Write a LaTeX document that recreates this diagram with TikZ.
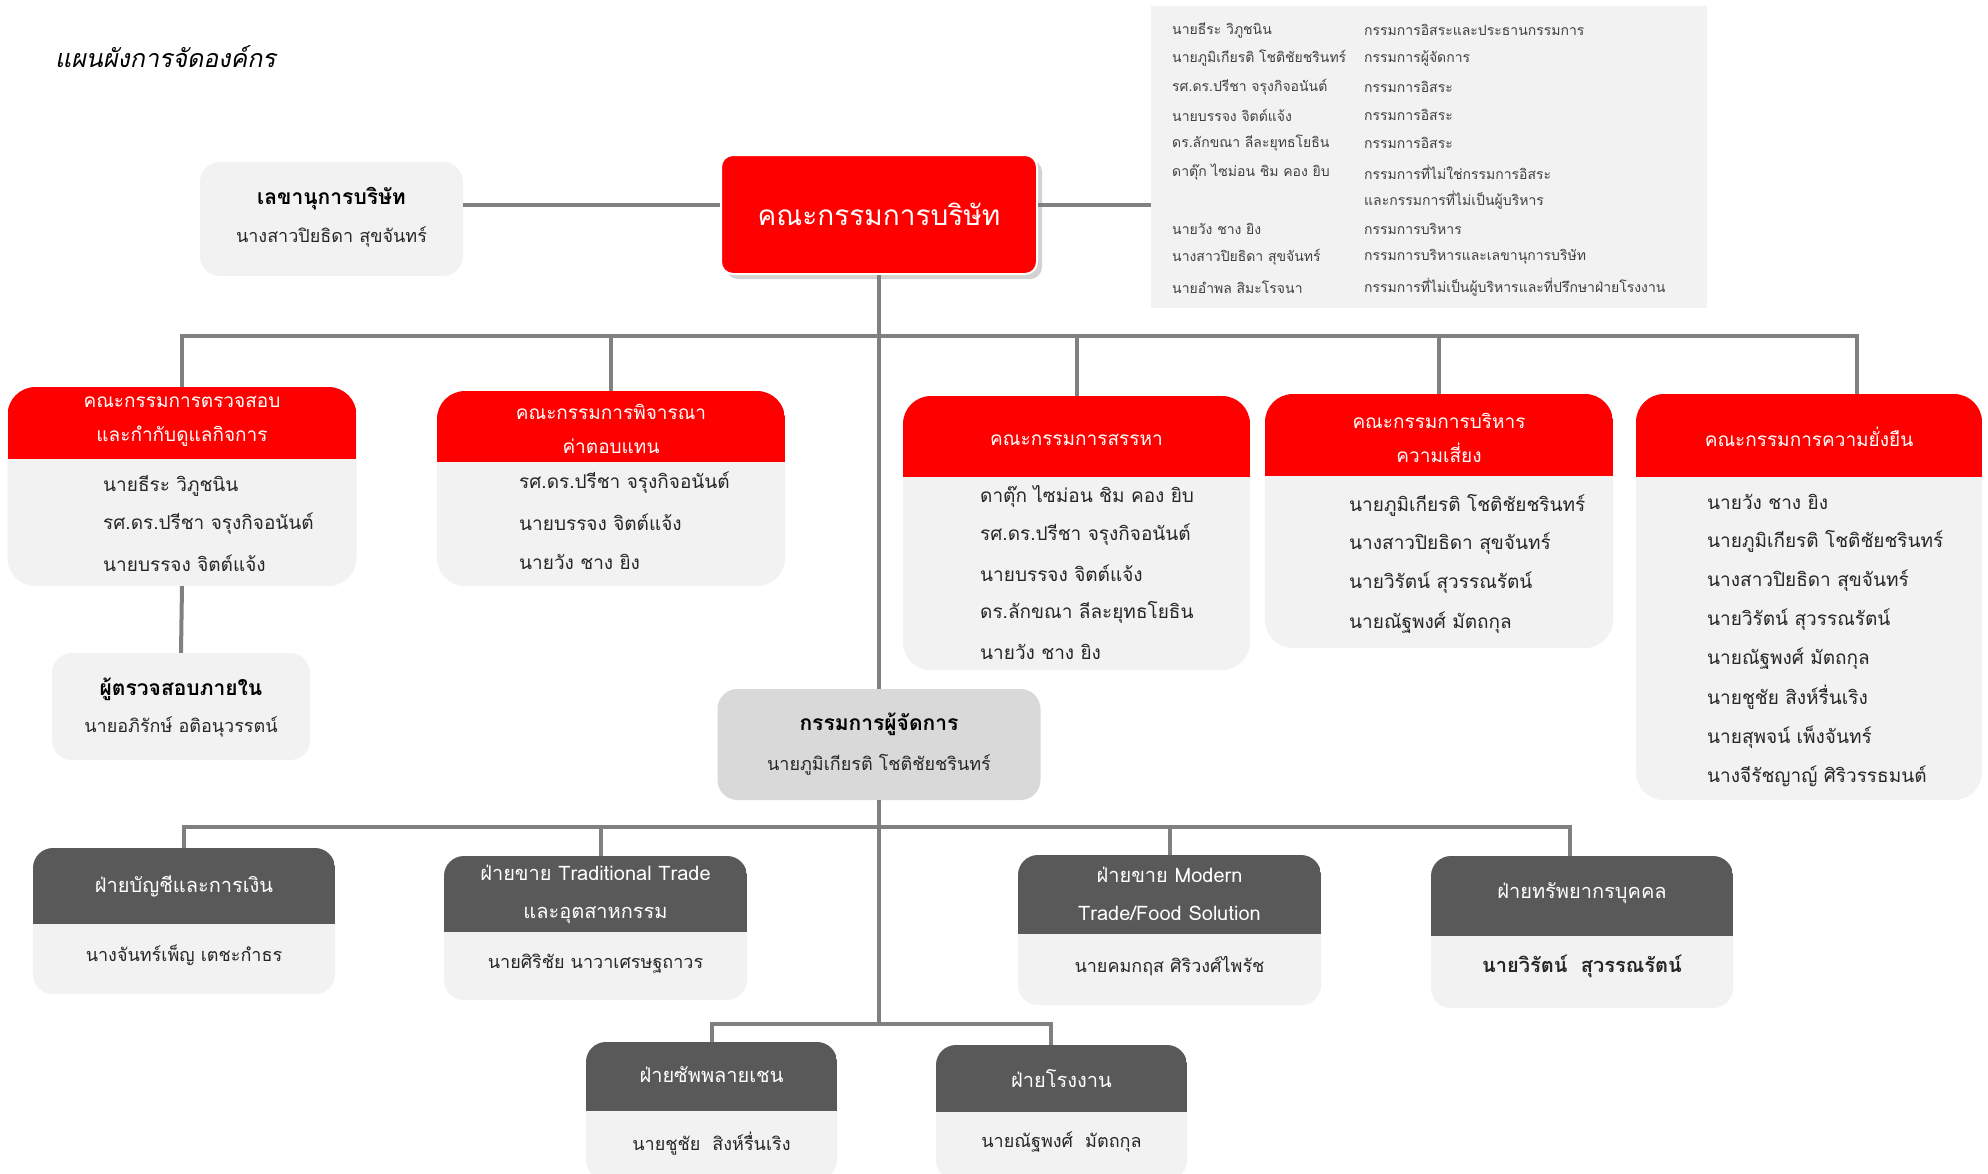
\documentclass[tikz,border=0pt]{standalone}
\usepackage{fontspec}
\setmainfont[Script=Thai]{Loma}
\newfontfamily\slthai[Script=Thai,FakeSlant=0.2]{Loma}
\usetikzlibrary{shadows}

\definecolor{orgred}{HTML}{FF0000}
\definecolor{panel}{HTML}{F2F2F2}
\definecolor{mdgray}{HTML}{D9D9D9}
\definecolor{deptgray}{HTML}{595959}
\definecolor{wiregray}{HTML}{808080}

\tikzset{
  wire/.style={draw=wiregray, line width=4pt},
  card/.style={fill=panel, rounded corners=20pt, inner sep=0pt},
  headcard/.style 2 args={card, path picture={
      \fill[#1, sharp corners] (path picture bounding box.north west)
        rectangle ([yshift=-#2]path picture bounding box.north east);}},
  committee/.style={headcard={orgred}{#1}, rounded corners=28pt},
  dept/.style={headcard={deptgray}{#1}, rounded corners=20pt},
  boardbox/.style={fill=orgred, rounded corners=12pt, draw=white, line width=2pt,
    drop shadow={opacity=0.35, shadow xshift=5pt, shadow yshift=-5pt},
    text=white, font=\fontsize{28}{32}\selectfont},
  hd/.style={text=white, align=center, inner sep=0pt, font=\fontsize{19}{34}\selectfont},
  dhd/.style={text=white, align=center, inner sep=0pt, font=\fontsize{20}{38}\selectfont},
  mem/.style={anchor=west, inner sep=0pt, text=black!85, font=\fontsize{19}{23}\selectfont},
  lst/.style={anchor=west, inner sep=0pt, text=black!75, font=\fontsize{14}{17}\selectfont},
  ttl/.style={inner sep=0pt, font=\bfseries\fontsize{21}{25}\selectfont},
  nm/.style={inner sep=0pt, text=black!85, font=\fontsize{18}{22}\selectfont},
}

\begin{document}
\begin{tikzpicture}[x=1pt, y=-1pt]
  \path[fill=white, use as bounding box] (0,0) rectangle (1988,1173);

  % title
  \node[anchor=west, inner sep=0pt, font=\slthai\fontsize{25}{29}\selectfont] (title) at (55,57) {แผนผังการจัดองค์กร};

  % board, secretary and list of directors
  \node[card, minimum width=263pt, minimum height=114pt] (sec) at (331.5,219) {};
  \node[boardbox, minimum width=316pt, minimum height=119pt] (board) at (879,214.5) {คณะกรรมการบริษัท};
  \node[fill=panel, inner sep=0pt, minimum width=556pt, minimum height=302pt] (list) at (1429,157) {};
  \draw
    (331.5,199) node[ttl] (sec-t) {เลขานุการบริษัท}
    (331.5,237) node[nm] (sec-n) {นางสาวปิยธิดา สุขจันทร์};
  \begin{scope}[every node/.style={lst}]
    \draw
      (1172,30) node (l1) {นายธีระ วิภูชนิน}
      (1172,58) node (l2) {นายภูมิเกียรติ โชติชัยชรินทร์}
      (1172,87) node (l3) {รศ.ดร.ปรีชา จรุงกิจอนันต์}
      (1172,115) node (l4) {นายบรรจง จิตต์แจ้ง}
      (1172,143) node (l5) {ดร.ลักขณา ลีละยุทธโยธิน}
      (1172,172) node (l6) {ดาตุ๊ก ไซม่อน ชิม คอง ยิบ}
      (1172,229) node (l8) {นายวัง ชาง ยิง}
      (1172,257) node (l9) {นางสาวปิยธิดา สุขจันทร์}
      (1172,287) node (l10) {นายอำพล สิมะโรจนา};
    \draw
      (1364,30) node (r1) {กรรมการอิสระและประธานกรรมการ}
      (1364,58) node (r2) {กรรมการผู้จัดการ}
      (1364,87) node (r3) {กรรมการอิสระ}
      (1364,115) node (r4) {กรรมการอิสระ}
      (1364,143) node (r5) {กรรมการอิสระ}
      (1364,172) node (r6) {กรรมการที่ไม่ใช่กรรมการอิสระ}
      (1364,200) node (r7) {และกรรมการที่ไม่เป็นผู้บริหาร}
      (1364,229) node (r8) {กรรมการบริหาร}
      (1364,257) node (r9) {กรรมการบริหารและเลขานุการบริษัท}
      (1364,287) node (r10) {กรรมการที่ไม่เป็นผู้บริหารและที่ปรึกษาฝ่ายโรงงาน};
  \end{scope}

  % committees
  \node[committee=72pt, minimum width=349pt, minimum height=199pt] (audit) at (182,486.5) {};
  \node[committee=71pt, minimum width=348pt, minimum height=195pt] (remun) at (611,488.5) {};
  \node[committee=81pt, minimum width=347pt, minimum height=274pt] (nomin) at (1076.5,533) {};
  \node[committee=82pt, minimum width=348pt, minimum height=254pt] (risk) at (1439,521) {};
  \node[committee=83pt, minimum width=346pt, minimum height=406pt] (sust) at (1809,597) {};
  \draw
    (182,421) node[hd] (audit-h) {คณะกรรมการตรวจสอบ\\และกำกับดูแลกิจการ}
    (611,429) node[hd] (remun-h) {คณะกรรมการพิจารณา\\ค่าตอบแทน}
    (1076.5,440) node[hd] (nomin-h) {คณะกรรมการสรรหา}
    (1439,438) node[hd] (risk-h) {คณะกรรมการบริหาร\\ความเสี่ยง}
    (1809,437) node[hd] (sust-h) {คณะกรรมการความยั่งยืน};
  \begin{scope}[every node/.style={mem}]
    \draw
      (103,486) node (audit-1) {นายธีระ วิภูชนิน}
      (103,524) node (audit-2) {รศ.ดร.ปรีชา จรุงกิจอนันต์}
      (103,563) node (audit-3) {นายบรรจง จิตต์แจ้ง};
    \draw
      (519,483) node (remun-1) {รศ.ดร.ปรีชา จรุงกิจอนันต์}
      (519,522) node (remun-2) {นายบรรจง จิตต์แจ้ง}
      (519,562) node (remun-3) {นายวัง ชาง ยิง};
    \draw
      (980,496) node (nomin-1) {ดาตุ๊ก ไซม่อน ชิม คอง ยิบ}
      (980,535) node (nomin-2) {รศ.ดร.ปรีชา จรุงกิจอนันต์}
      (980,573) node (nomin-3) {นายบรรจง จิตต์แจ้ง}
      (980,612) node (nomin-4) {ดร.ลักขณา ลีละยุทธโยธิน}
      (980,652) node (nomin-5) {นายวัง ชาง ยิง};
    \draw
      (1349,505) node (risk-1) {นายภูมิเกียรติ โชติชัยชรินทร์}
      (1349,544) node (risk-2) {นางสาวปิยธิดา สุขจันทร์}
      (1349,583) node (risk-3) {นายวิรัตน์ สุวรรณรัตน์}
      (1349,623) node (risk-4) {นายณัฐพงศ์ มัตถกุล};
    \draw
      (1707,502) node (sust-1) {นายวัง ชาง ยิง}
      (1707,541) node (sust-2) {นายภูมิเกียรติ โชติชัยชรินทร์}
      (1707,581) node (sust-3) {นางสาวปิยธิดา สุขจันทร์}
      (1707,620) node (sust-4) {นายวิรัตน์ สุวรรณรัตน์}
      (1707,659) node (sust-5) {นายณัฐพงศ์ มัตถกุล}
      (1707,697) node (sust-6) {นายชูชัย สิงห์รื่นเริง}
      (1707,737) node (sust-7) {นายสุพจน์ เพ็งจันทร์}
      (1707,776) node (sust-8) {นางจีรัชญาญ์ ศิริวรรธมนต์};
  \end{scope}

  % internal audit and managing director
  \node[card, minimum width=258pt, minimum height=107pt] (inaud) at (181,706.5) {};
  \node[card, fill=mdgray, minimum width=323pt, minimum height=111pt] (md) at (879,744.5) {};
  \draw
    (181,689) node[ttl] (inaud-t) {ผู้ตรวจสอบภายใน}
    (181,727) node[nm] (inaud-n) {นายอภิรักษ์ อติอนุวรรตน์}
    (879,724) node[ttl] (md-t) {กรรมการผู้จัดการ}
    (879,765) node[nm] (md-n) {นายภูมิเกียรติ โชติชัยชรินทร์};

  % departments
  \node[dept=76pt, minimum width=302pt, minimum height=146pt] (acc) at (184,921) {};
  \node[dept=76pt, minimum width=303pt, minimum height=144pt] (trad) at (595.5,928) {};
  \node[dept=79pt, minimum width=303pt, minimum height=150pt] (modern) at (1169.5,930) {};
  \node[dept=80pt, minimum width=302pt, minimum height=152pt] (hr) at (1582,932) {};
  \node[dept=69pt, minimum width=251pt, minimum height=138pt] (supply) at (711.5,1111) {};
  \node[dept=67pt, minimum width=251pt, minimum height=135pt] (plant) at (1061.5,1112.5) {};
  \draw
    (184,886) node[dhd] (acc-h) {ฝ่ายบัญชีและการเงิน}
    (595.5,894) node[dhd] (trad-h) {ฝ่ายขาย Traditional Trade\\และอุตสาหกรรม}
    (1169.5,893.5) node[dhd] (modern-h) {ฝ่ายขาย Modern\\Trade/Food Solution}
    (1582,893) node[dhd] (hr-h) {ฝ่ายทรัพยากรบุคคล}
    (711.5,1075) node[dhd] (supply-h) {ฝ่ายซัพพลายเชน}
    (1061.5,1079) node[dhd] (plant-h) {ฝ่ายโรงงาน};
  \draw
    (184,955) node[nm] (acc-n) {นางจันทร์เพ็ญ เตชะกำธร}
    (595.5,964) node[nm] (trad-n) {นายศิริชัย นาวาเศรษฐถาวร}
    (1169.5,966) node[nm] (modern-n) {นายคมกฤส ศิริวงศ์ไพรัช}
    (1582,966) node[nm, font=\bfseries\fontsize{20}{24}\selectfont] (hr-n) {นายวิรัตน์\ \ สุวรรณรัตน์}
    (711.5,1144) node[nm] (supply-n) {นายชูชัย\ \ สิงห์รื่นเริง}
    (1061.5,1142) node[nm] (plant-n) {นายณัฐพงศ์\ \ มัตถกุล};

  % connectors
  \coordinate (cbus) at (879,336);
  \coordinate (dbus) at (879,827);
  \coordinate (pbus) at (879,1024);
  \begin{scope}[wire]
    \draw ([yshift=14pt]sec.east) -- ([yshift=9.5pt]board.west);
    \draw ([yshift=9.5pt]board.east) -- ([yshift=-48pt]list.west);
    \draw (board.south) -- (md.north);
    \draw (md.south) -- (pbus);
    \draw (cbus) -| (audit.north);
    \draw (cbus) -| (remun.north);
    \draw (cbus) -| (nomin.north);
    \draw (cbus) -| (risk.north);
    \draw (cbus) -| ([xshift=48pt]sust.north);
    \draw (audit.south) -- (inaud.north);
    \draw (dbus) -| (acc.north);
    \draw (dbus) -| ([xshift=5.5pt]trad.north);
    \draw (dbus) -| (modern.north);
    \draw (dbus) -| ([xshift=-12pt]hr.north);
    \draw (pbus) -| (supply.north);
    \draw (pbus) -| ([xshift=-11pt]plant.north);
  \end{scope}
\end{tikzpicture}
\end{document}
